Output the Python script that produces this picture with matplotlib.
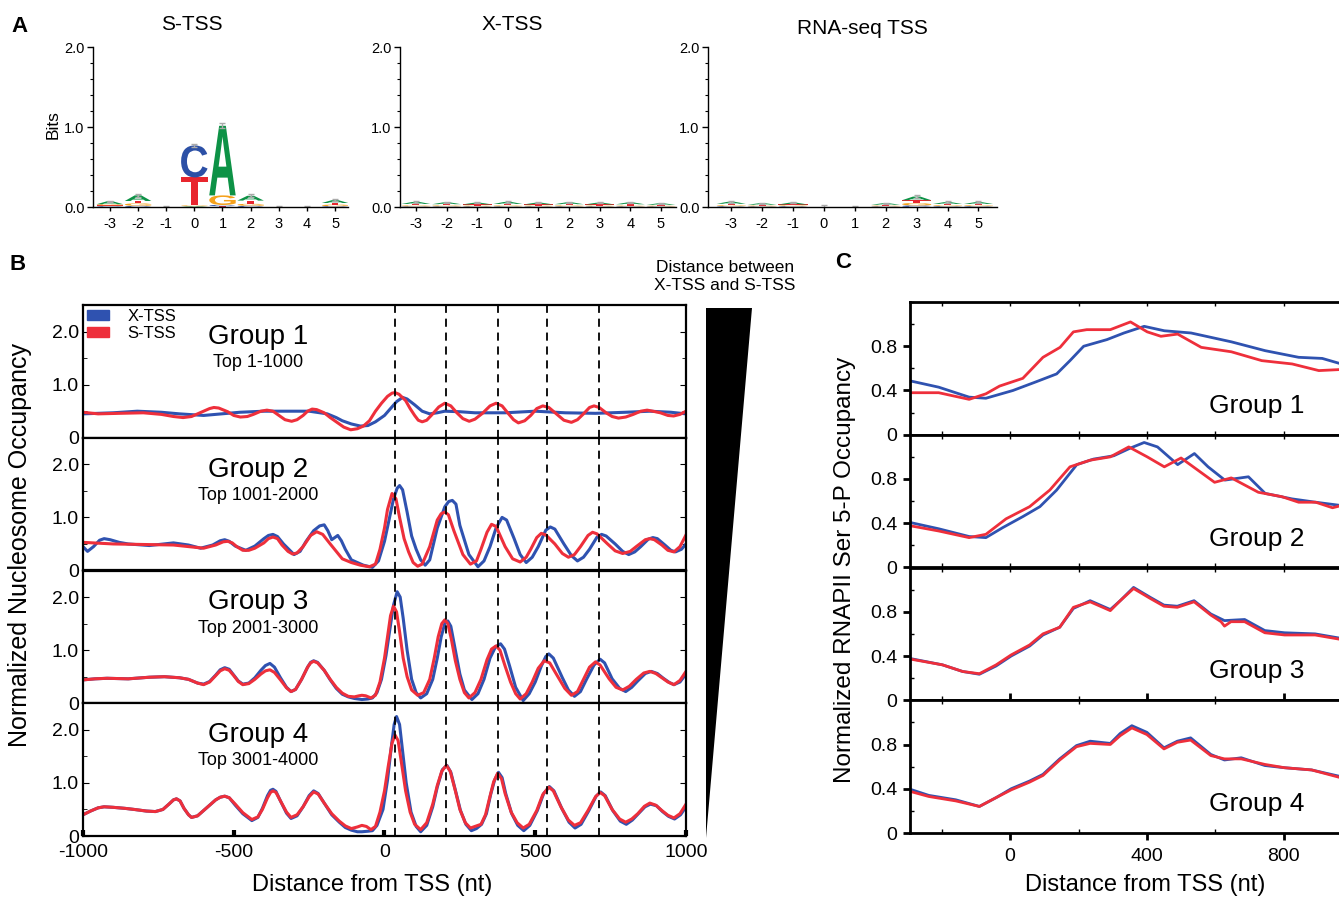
import numpy as np
import matplotlib
matplotlib.use("Agg")
import matplotlib.pyplot as plt
from matplotlib.textpath import TextPath
from matplotlib.patches import PathPatch, Patch, Polygon
from matplotlib.font_manager import FontProperties
from matplotlib.transforms import Affine2D
from matplotlib.ticker import MultipleLocator, FixedLocator

plt.rcParams['font.family'] = ['Liberation Sans', 'DejaVu Sans']
plt.rcParams['axes.unicode_minus'] = False
NARROW = ['Liberation Sans Narrow', 'Liberation Sans', 'DejaVu Sans']

BLUE = '#2f52b0'
RED = '#ee2f3b'

# ---------------- panel A: sequence logos (bits) ----------------
logo_pos = [-3, -2, -1, 0, 1, 2, 3, 4, 5]
logo_titles = ['S-TSS', 'X-TSS', 'RNA-seq TSS']

s_tss_A = [0.035, 0.07, 0.0, 0.01, 0.87, 0.06, 0.0, 0.0, 0.035]
s_tss_C = [0.01, 0.015, 0.0, 0.40, 0.015, 0.015, 0.0, 0.0, 0.01]
s_tss_G = [0.015, 0.03, 0.0, 0.01, 0.12, 0.025, 0.0, 0.0, 0.02]
s_tss_T = [0.01, 0.03, 0.0, 0.35, 0.01, 0.04, 0.0, 0.0, 0.02]
s_tss_err = [0.01, 0.02, 0.01, 0.02, 0.03, 0.02, 0.01, 0.015, 0.01]

x_tss_A = [0.025, 0.022, 0.02, 0.025, 0.02, 0.022, 0.02, 0.022, 0.018]
x_tss_C = [0.008, 0.008, 0.008, 0.008, 0.008, 0.008, 0.008, 0.008, 0.007]
x_tss_G = [0.012, 0.012, 0.01, 0.012, 0.01, 0.012, 0.01, 0.01, 0.01]
x_tss_T = [0.018, 0.015, 0.015, 0.018, 0.015, 0.015, 0.015, 0.016, 0.01]
x_tss_err = [0.01, 0.008, 0.008, 0.01, 0.008, 0.008, 0.008, 0.008, 0.008]

rna_tss_A = [0.025, 0.018, 0.022, 0.0, 0.0, 0.018, 0.045, 0.022, 0.022]
rna_tss_C = [0.01, 0.008, 0.01, 0.0, 0.0, 0.008, 0.02, 0.01, 0.01]
rna_tss_G = [0.012, 0.01, 0.01, 0.0, 0.0, 0.01, 0.03, 0.012, 0.012]
rna_tss_T = [0.018, 0.01, 0.012, 0.0, 0.0, 0.01, 0.035, 0.016, 0.016]
rna_tss_err = [0.01, 0.008, 0.008, 0.02, 0.015, 0.008, 0.015, 0.01, 0.01]

# ---------------- panel B: nucleosome occupancy, (position, value) ----------------
group_names = ['Group 1', 'Group 2', 'Group 3', 'Group 4']
group_ranks = ['Top 1-1000', 'Top 1001-2000', 'Top 2001-3000', 'Top 3001-4000']
dyad_lines = [35, 205, 375, 540, 710]

nuc_x_g1 = [(-1000, 0.45), (-900, 0.47), (-820, 0.50), (-740, 0.48), (-680, 0.45), (-600, 0.42),
            (-540, 0.45), (-480, 0.48), (-400, 0.50), (-300, 0.50), (-250, 0.50), (-190, 0.45),
            (-160, 0.38), (-140, 0.32), (-110, 0.26), (-80, 0.22), (-55, 0.23), (-30, 0.30), (0, 0.42),
            (20, 0.55), (40, 0.68), (60, 0.76), (75, 0.73), (100, 0.62), (125, 0.50), (150, 0.45),
            (175, 0.47), (200, 0.50), (250, 0.49), (300, 0.47), (400, 0.47), (500, 0.50), (600, 0.47),
            (700, 0.46), (800, 0.48), (880, 0.50), (950, 0.48), (1000, 0.45)]
nuc_s_g1 = [(-1000, 0.48), (-950, 0.45), (-880, 0.46), (-800, 0.47), (-740, 0.44), (-700, 0.40),
            (-668, 0.38), (-640, 0.40), (-600, 0.50), (-580, 0.55), (-566, 0.57), (-550, 0.56),
            (-520, 0.49), (-500, 0.42), (-478, 0.39), (-455, 0.40), (-435, 0.44), (-410, 0.50),
            (-390, 0.52), (-370, 0.50), (-350, 0.42), (-330, 0.34), (-308, 0.31), (-290, 0.34),
            (-270, 0.42), (-255, 0.50), (-240, 0.54), (-225, 0.53), (-200, 0.47), (-180, 0.38),
            (-160, 0.30), (-135, 0.20), (-112, 0.15), (-90, 0.17), (-70, 0.22), (-50, 0.32), (-30, 0.50),
            (-10, 0.65), (10, 0.78), (25, 0.84), (35, 0.85), (48, 0.82), (70, 0.70), (85, 0.55),
            (100, 0.42), (112, 0.33), (125, 0.30), (140, 0.33), (160, 0.45), (180, 0.58), (200, 0.65),
            (220, 0.60), (240, 0.47), (260, 0.36), (281, 0.31), (300, 0.35), (325, 0.46), (350, 0.60),
            (370, 0.65), (390, 0.60), (410, 0.46), (428, 0.34), (444, 0.28), (465, 0.32), (485, 0.42),
            (505, 0.55), (525, 0.60), (545, 0.57), (570, 0.45), (595, 0.33), (620, 0.29), (640, 0.34),
            (660, 0.45), (680, 0.57), (695, 0.60), (712, 0.57), (735, 0.47), (755, 0.40), (776, 0.37),
            (800, 0.39), (825, 0.44), (850, 0.50), (871, 0.52), (890, 0.50), (915, 0.47), (940, 0.42),
            (959, 0.41), (980, 0.44), (1000, 0.50)]

nuc_x_g2 = [(-1000, 0.45), (-985, 0.36), (-965, 0.45), (-945, 0.57), (-930, 0.60), (-910, 0.58),
            (-880, 0.53), (-850, 0.50), (-780, 0.47), (-700, 0.52), (-650, 0.48), (-610, 0.42),
            (-570, 0.48), (-545, 0.56), (-530, 0.58), (-515, 0.55), (-495, 0.46), (-460, 0.38),
            (-430, 0.46), (-400, 0.60), (-385, 0.66), (-370, 0.68), (-355, 0.64), (-335, 0.50),
            (-300, 0.30), (-280, 0.36), (-260, 0.55), (-235, 0.75), (-215, 0.84), (-200, 0.86),
            (-188, 0.75), (-175, 0.58), (-165, 0.62), (-155, 0.66), (-143, 0.56), (-130, 0.40),
            (-110, 0.20), (-70, 0.10), (-40, 0.06), (-20, 0.18), (0, 0.55), (15, 0.95), (30, 1.35),
            (42, 1.55), (50, 1.60), (60, 1.52), (75, 1.10), (90, 0.65), (105, 0.40), (120, 0.20),
            (135, 0.10), (150, 0.20), (175, 0.80), (200, 1.20), (213, 1.30), (225, 1.32), (237, 1.25),
            (250, 0.85), (280, 0.30), (310, 0.07), (330, 0.18), (350, 0.45), (370, 0.80), (390, 1.00),
            (405, 0.95), (430, 0.60), (450, 0.30), (470, 0.15), (490, 0.25), (510, 0.45), (535, 0.76),
            (550, 0.82), (565, 0.78), (595, 0.50), (620, 0.28), (640, 0.18), (660, 0.25), (680, 0.40),
            (705, 0.63), (720, 0.68), (735, 0.65), (765, 0.50), (790, 0.36), (810, 0.30), (830, 0.35),
            (850, 0.45), (875, 0.59), (890, 0.62), (905, 0.60), (930, 0.48), (950, 0.38), (965, 0.35),
            (985, 0.40), (1000, 0.50)]
nuc_s_g2 = [(-1000, 0.53), (-900, 0.50), (-800, 0.49), (-700, 0.48), (-650, 0.45), (-600, 0.42),
            (-560, 0.48), (-535, 0.54), (-520, 0.55), (-505, 0.52), (-490, 0.45), (-470, 0.38),
            (-450, 0.38), (-430, 0.42), (-400, 0.52), (-385, 0.60), (-370, 0.63), (-355, 0.60),
            (-340, 0.48), (-320, 0.36), (-305, 0.31), (-290, 0.33), (-270, 0.45), (-245, 0.66),
            (-225, 0.73), (-205, 0.68), (-180, 0.50), (-140, 0.22), (-110, 0.15), (-80, 0.10),
            (-50, 0.07), (-30, 0.12), (-15, 0.40), (0, 0.80), (10, 1.15), (25, 1.45), (38, 1.35),
            (50, 1.00), (65, 0.60), (80, 0.35), (95, 0.15), (110, 0.08), (125, 0.12), (150, 0.45),
            (175, 0.95), (188, 1.07), (200, 1.10), (212, 1.05), (230, 0.75), (260, 0.30), (285, 0.12),
            (305, 0.18), (320, 0.40), (340, 0.72), (355, 0.87), (370, 0.83), (400, 0.45), (425, 0.22),
            (450, 0.16), (470, 0.25), (485, 0.40), (505, 0.62), (520, 0.70), (535, 0.67), (565, 0.50),
            (590, 0.32), (610, 0.25), (630, 0.30), (650, 0.45), (675, 0.66), (690, 0.72), (705, 0.69),
            (740, 0.50), (765, 0.37), (790, 0.32), (815, 0.36), (835, 0.45), (865, 0.58), (880, 0.60),
            (895, 0.58), (920, 0.48), (940, 0.38), (960, 0.35), (980, 0.45), (1000, 0.67)]

nuc_x_g3 = [(-1000, 0.44), (-960, 0.46), (-920, 0.47), (-850, 0.46), (-780, 0.49), (-730, 0.50),
            (-680, 0.48), (-650, 0.45), (-620, 0.38), (-600, 0.36), (-580, 0.41), (-560, 0.53),
            (-545, 0.63), (-530, 0.67), (-515, 0.64), (-500, 0.53), (-485, 0.42), (-470, 0.36),
            (-450, 0.38), (-430, 0.48), (-410, 0.62), (-395, 0.71), (-380, 0.75), (-365, 0.68),
            (-345, 0.48), (-325, 0.30), (-310, 0.22), (-295, 0.26), (-275, 0.45), (-255, 0.68),
            (-245, 0.77), (-235, 0.80), (-222, 0.77), (-200, 0.62), (-180, 0.44), (-160, 0.28),
            (-140, 0.17), (-120, 0.12), (-100, 0.09), (-75, 0.07), (-55, 0.08), (-40, 0.10), (-25, 0.20),
            (-10, 0.45), (5, 0.90), (18, 1.40), (30, 1.85), (42, 2.10), (52, 2.00), (62, 1.60),
            (75, 1.00), (90, 0.45), (105, 0.20), (120, 0.10), (140, 0.18), (160, 0.45), (175, 0.85),
            (188, 1.25), (200, 1.50), (210, 1.55), (220, 1.45), (235, 1.00), (250, 0.55), (265, 0.25),
            (290, 0.07), (310, 0.18), (330, 0.45), (350, 0.85), (368, 1.06), (385, 1.12), (398, 1.02),
            (415, 0.70), (435, 0.30), (460, 0.05), (480, 0.18), (500, 0.40), (520, 0.70), (535, 0.88),
            (545, 0.93), (560, 0.85), (590, 0.48), (610, 0.25), (630, 0.13), (650, 0.22), (670, 0.45),
            (695, 0.72), (715, 0.83), (730, 0.76), (755, 0.46), (780, 0.28), (800, 0.22), (820, 0.30),
            (840, 0.42), (865, 0.56), (885, 0.60), (905, 0.56), (925, 0.47), (945, 0.39), (960, 0.35),
            (980, 0.40), (1000, 0.55)]
nuc_s_g3 = [(-1000, 0.44), (-960, 0.46), (-920, 0.47), (-850, 0.46), (-780, 0.49), (-730, 0.50),
            (-680, 0.48), (-650, 0.45), (-620, 0.38), (-600, 0.35), (-580, 0.40), (-560, 0.52),
            (-545, 0.61), (-530, 0.65), (-515, 0.62), (-500, 0.52), (-485, 0.41), (-470, 0.35),
            (-450, 0.37), (-430, 0.45), (-410, 0.55), (-395, 0.61), (-380, 0.63), (-365, 0.58),
            (-345, 0.44), (-325, 0.29), (-310, 0.22), (-295, 0.26), (-275, 0.45), (-255, 0.68),
            (-245, 0.76), (-235, 0.79), (-222, 0.76), (-200, 0.62), (-180, 0.45), (-160, 0.30),
            (-140, 0.19), (-120, 0.13), (-100, 0.12), (-85, 0.14), (-75, 0.15), (-62, 0.14), (-45, 0.10),
            (-30, 0.15), (-15, 0.40), (0, 0.85), (10, 1.25), (20, 1.65), (30, 1.83), (40, 1.72),
            (50, 1.35), (62, 0.85), (75, 0.50), (90, 0.25), (110, 0.15), (130, 0.20), (150, 0.45),
            (165, 0.85), (178, 1.25), (190, 1.50), (200, 1.57), (210, 1.50), (222, 1.20), (235, 0.80),
            (250, 0.45), (265, 0.20), (280, 0.10), (300, 0.20), (320, 0.45), (340, 0.82), (355, 1.02),
            (370, 1.08), (383, 1.00), (400, 0.70), (418, 0.40), (435, 0.18), (450, 0.08), (470, 0.18),
            (490, 0.40), (510, 0.66), (530, 0.80), (548, 0.76), (575, 0.50), (598, 0.28), (620, 0.15),
            (640, 0.22), (660, 0.45), (680, 0.68), (700, 0.78), (715, 0.72), (745, 0.46), (768, 0.30),
            (790, 0.25), (812, 0.32), (835, 0.45), (860, 0.57), (880, 0.60), (900, 0.56), (920, 0.48),
            (940, 0.40), (960, 0.35), (980, 0.43), (1000, 0.60)]

nuc_x_g4 = [(-1000, 0.40), (-975, 0.47), (-950, 0.53), (-930, 0.55), (-900, 0.54), (-860, 0.52),
            (-830, 0.50), (-790, 0.47), (-760, 0.46), (-735, 0.50), (-715, 0.60), (-700, 0.68),
            (-690, 0.70), (-678, 0.66), (-665, 0.52), (-650, 0.40), (-640, 0.35), (-620, 0.38),
            (-590, 0.53), (-560, 0.68), (-545, 0.73), (-530, 0.75), (-515, 0.72), (-495, 0.58),
            (-470, 0.42), (-440, 0.29), (-420, 0.35), (-405, 0.52), (-388, 0.76), (-378, 0.86),
            (-370, 0.88), (-360, 0.84), (-345, 0.66), (-325, 0.43), (-310, 0.33), (-290, 0.38),
            (-270, 0.55), (-250, 0.76), (-235, 0.85), (-220, 0.80), (-200, 0.62), (-175, 0.40),
            (-150, 0.26), (-130, 0.16), (-110, 0.11), (-90, 0.08), (-75, 0.08), (-55, 0.09), (-40, 0.10),
            (-25, 0.20), (-5, 0.50), (10, 1.05), (22, 1.65), (32, 2.10), (40, 2.25), (50, 2.10),
            (60, 1.60), (72, 1.00), (88, 0.45), (105, 0.18), (120, 0.08), (140, 0.20), (160, 0.55),
            (175, 0.92), (192, 1.25), (207, 1.33), (220, 1.20), (237, 0.82), (252, 0.48), (270, 0.22),
            (288, 0.10), (305, 0.14), (322, 0.22), (338, 0.42), (352, 0.78), (365, 1.05), (378, 1.20),
            (390, 1.10), (402, 0.80), (422, 0.42), (442, 0.20), (462, 0.10), (482, 0.20), (507, 0.48),
            (528, 0.80), (547, 0.93), (562, 0.85), (588, 0.52), (612, 0.26), (632, 0.15), (652, 0.22),
            (677, 0.47), (702, 0.75), (717, 0.83), (732, 0.76), (757, 0.48), (782, 0.28), (802, 0.22),
            (822, 0.30), (842, 0.42), (864, 0.55), (882, 0.60), (902, 0.57), (922, 0.46), (942, 0.37),
            (962, 0.32), (982, 0.40), (1000, 0.55)]
nuc_s_g4 = [(-1000, 0.40), (-975, 0.47), (-950, 0.53), (-930, 0.55), (-900, 0.54), (-860, 0.52),
            (-830, 0.50), (-790, 0.47), (-760, 0.46), (-735, 0.50), (-715, 0.60), (-700, 0.68),
            (-690, 0.70), (-678, 0.66), (-665, 0.52), (-650, 0.40), (-640, 0.35), (-620, 0.38),
            (-590, 0.53), (-560, 0.68), (-545, 0.73), (-530, 0.75), (-515, 0.72), (-495, 0.60),
            (-470, 0.44), (-440, 0.31), (-420, 0.36), (-405, 0.50), (-388, 0.72), (-378, 0.82),
            (-370, 0.85), (-360, 0.82), (-345, 0.66), (-325, 0.45), (-310, 0.35), (-290, 0.40),
            (-270, 0.55), (-250, 0.74), (-235, 0.83), (-220, 0.79), (-200, 0.62), (-175, 0.42),
            (-150, 0.28), (-130, 0.19), (-110, 0.14), (-90, 0.17), (-75, 0.20), (-60, 0.18), (-45, 0.12),
            (-30, 0.18), (-15, 0.45), (0, 0.85), (12, 1.30), (25, 1.75), (35, 1.90), (45, 1.80),
            (57, 1.35), (70, 0.85), (85, 0.45), (100, 0.22), (120, 0.12), (140, 0.25), (160, 0.60),
            (175, 0.95), (190, 1.22), (205, 1.33), (218, 1.22), (235, 0.85), (250, 0.50), (268, 0.25),
            (285, 0.15), (300, 0.18), (320, 0.22), (335, 0.40), (350, 0.75), (362, 1.02), (375, 1.18),
            (388, 1.08), (400, 0.80), (420, 0.45), (440, 0.25), (460, 0.15), (480, 0.22), (505, 0.48),
            (525, 0.78), (545, 0.92), (560, 0.85), (585, 0.55), (610, 0.30), (630, 0.20), (650, 0.25),
            (675, 0.48), (700, 0.74), (715, 0.82), (730, 0.76), (755, 0.50), (780, 0.32), (800, 0.26),
            (820, 0.32), (840, 0.42), (862, 0.56), (880, 0.62), (900, 0.58), (920, 0.48), (940, 0.39),
            (960, 0.34), (980, 0.42), (1000, 0.60)]

nuc_x_tss = [nuc_x_g1, nuc_x_g2, nuc_x_g3, nuc_x_g4]
nuc_s_tss = [nuc_s_g1, nuc_s_g2, nuc_s_g3, nuc_s_g4]

# ---------------- panel C: RNAPII Ser5-P occupancy ----------------
pol_x_pos = [
    [-297, -209, -120, -71, 8, 77, 136, 175, 215, 283, 333, 392, 451, 529, 647, 746, 844, 913, 969],
    [-297, -209, -120, -71, -22, 37, 87, 136, 195, 244, 303, 352, 392, 431, 490, 539, 579, 628, 697, 746,
     825, 894, 969],
    [-297, -198, -139, -90, -41, 3, 57, 96, 145, 185, 234, 293, 322, 361, 410, 450, 489, 538, 587, 627,
     686, 745, 803, 892, 967],
    [-297, -238, -159, -90, -41, 3, 57, 96, 145, 194, 234, 293, 322, 356, 400, 450, 489, 528, 587, 627,
     676, 745, 803, 882, 967],
]
pol_x_val = [
    [0.49, 0.43, 0.34, 0.33, 0.40, 0.48, 0.55, 0.67, 0.80, 0.86, 0.92, 0.98, 0.94, 0.92, 0.84, 0.76, 0.70,
     0.69, 0.64],
    [0.41, 0.35, 0.28, 0.27, 0.36, 0.46, 0.55, 0.70, 0.93, 0.98, 1.01, 1.08, 1.13, 1.09, 0.93, 1.03, 0.91,
     0.79, 0.82, 0.67, 0.62, 0.59, 0.56],
    [0.38, 0.32, 0.26, 0.235, 0.31, 0.40, 0.49, 0.59, 0.66, 0.83, 0.90, 0.82, 0.90, 1.02, 0.93, 0.86, 0.85,
     0.90, 0.78, 0.72, 0.73, 0.63, 0.61, 0.60, 0.56],
    [0.40, 0.34, 0.30, 0.24, 0.32, 0.40, 0.47, 0.53, 0.67, 0.79, 0.83, 0.81, 0.90, 0.97, 0.91, 0.77, 0.83,
     0.86, 0.71, 0.66, 0.68, 0.61, 0.59, 0.57, 0.51],
]
pol_s_pos = [
    [-297, -209, -120, -71, -31, 37, 96, 146, 185, 224, 293, 352, 401, 441, 490, 559, 647, 736, 825, 903,
     969],
    [-297, -209, -120, -71, -12, 57, 116, 175, 234, 293, 347, 401, 451, 500, 549, 598, 647, 726, 795, 844,
     894, 943, 969],
    [-297, -198, -139, -90, -41, 3, 57, 96, 145, 185, 234, 293, 322, 361, 410, 450, 489, 538, 587, 617,
     627, 646, 686, 745, 803, 892, 967],
    [-297, -238, -159, -90, -41, 3, 57, 96, 145, 194, 234, 293, 322, 356, 400, 450, 489, 528, 587, 627,
     676, 745, 803, 882, 967],
]
pol_s_val = [
    [0.38, 0.38, 0.32, 0.37, 0.44, 0.51, 0.70, 0.79, 0.93, 0.95, 0.95, 1.02, 0.93, 0.89, 0.91, 0.79, 0.75,
     0.67, 0.64, 0.58, 0.59],
    [0.38, 0.33, 0.27, 0.30, 0.44, 0.55, 0.70, 0.91, 0.97, 1.00, 1.09, 1.00, 0.91, 0.99, 0.88, 0.77, 0.81,
     0.68, 0.64, 0.59, 0.59, 0.54, 0.56],
    [0.375, 0.32, 0.26, 0.24, 0.32, 0.41, 0.50, 0.60, 0.66, 0.84, 0.89, 0.81, 0.90, 1.01, 0.92, 0.85, 0.84,
     0.89, 0.77, 0.71, 0.67, 0.71, 0.71, 0.61, 0.59, 0.59, 0.55],
    [0.38, 0.33, 0.29, 0.24, 0.32, 0.39, 0.46, 0.52, 0.66, 0.78, 0.81, 0.80, 0.88, 0.95, 0.89, 0.76, 0.82,
     0.84, 0.70, 0.67, 0.67, 0.62, 0.59, 0.57, 0.50],
]

W, H = 1339, 897
fig = plt.figure(figsize=(W / 100, H / 100), dpi=100)


def add_ax(l, t, r, b):
    # axes box given in pixel edges of the figure
    return fig.add_axes([l / W, 1 - b / H, (r - l) / W, (b - t) / H])


LETTER_FP = FontProperties(family='Liberation Sans', weight='bold')
letter_colors = {'A': '#0d9246', 'C': '#2c50a6', 'G': '#f5a11b', 'T': '#e8262e'}


def draw_logo(ax, heights, err):
    totals = []
    for i, pos in enumerate(logo_pos):
        stack = sorted([(heights[l][i], l) for l in 'ACGT'])
        y0 = 0.0
        for h, l in stack:
            if h <= 0:
                continue
            tp = TextPath((0, 0), l, size=1, prop=LETTER_FP)
            bb = tp.get_extents()
            tr = (Affine2D().translate(-bb.x0, -bb.y0)
                  .scale(0.94 / bb.width, h / bb.height)
                  .translate(pos - 0.47, y0))
            ax.add_patch(PathPatch(tr.transform_path(tp), fc=letter_colors[l], ec='none'))
            y0 += h
        totals.append(y0)
    ax.errorbar(logo_pos, totals, yerr=err, fmt='none', ecolor='#aaaaaa',
                elinewidth=1, capsize=2.5, capthick=1)


logo_sets = [
    ({'A': s_tss_A, 'C': s_tss_C, 'G': s_tss_G, 'T': s_tss_T}, s_tss_err),
    ({'A': x_tss_A, 'C': x_tss_C, 'G': x_tss_G, 'T': x_tss_T}, x_tss_err),
    ({'A': rna_tss_A, 'C': rna_tss_C, 'G': rna_tss_G, 'T': rna_tss_T}, rna_tss_err),
]
logo_boxes = [(93, 348, -3.60, 5.46), (400, 676, -3.52, 5.49), (708, 997, -3.75, 5.60)]
title_xy = [(192, 25), (512, 25), (862, 28)]

for (heights, err), (l, r, x0, x1), title, (tx, ty) in zip(logo_sets, logo_boxes, logo_titles, title_xy):
    ax = add_ax(l, 47, r, 207)
    draw_logo(ax, heights, err)
    ax.set_xlim(x0, x1)
    ax.set_ylim(0, 2.0)
    ax.spines['top'].set_visible(False)
    ax.spines['right'].set_visible(False)
    for s in ('left', 'bottom'):
        ax.spines[s].set_linewidth(1.0)
    ax.set_xticks(logo_pos)
    ax.set_xticklabels([str(p) for p in logo_pos])
    ax.set_yticks([0, 1, 2])
    ax.set_yticklabels(['0.0', '1.0', '2.0'])
    ax.yaxis.set_minor_locator(MultipleLocator(0.2))
    ax.tick_params(which='major', length=4, width=1, labelsize=10.5, pad=2)
    ax.tick_params(which='minor', length=2.5, width=0.8)
    ax.tick_params(axis='x', length=3, pad=4)
    fig.text(tx / W, 1 - ty / H, title, ha='center', va='center', fontsize=15)

fig.text(53 / W, 1 - 125 / H, 'Bits', rotation=90, ha='center', va='center', fontsize=12.5)

# ---------------- panel B ----------------
b_edges = [305, 437.75, 570.5, 703.25, 836]
for k in range(4):
    ax = add_ax(83, b_edges[k], 686, b_edges[k + 1])
    xp, xv = zip(*nuc_x_tss[k])
    sp, sv = zip(*nuc_s_tss[k])
    ax.plot(xp, xv, color=BLUE, lw=2.2, solid_joinstyle='round')
    ax.plot(sp, sv, color=RED, lw=2.2, solid_joinstyle='round')
    for d in dyad_lines:
        ax.axvline(d, color='black', lw=1.3, ls=(0, (4.5, 3.2)))
    ax.set_xlim(-1000, 1000)
    ax.set_ylim(0, 2.5)
    for s in ax.spines.values():
        s.set_linewidth(1.6)
    ax.set_yticks([0, 1, 2])
    ax.set_yticklabels(['0', '1.0', '2.0'], family=NARROW)
    ax.yaxis.set_minor_locator(MultipleLocator(0.5))
    ax.tick_params(axis='y', which='both', direction='in', left=True, right=True,
                   labelsize=14, pad=3)
    ax.tick_params(axis='y', which='major', length=4)
    ax.tick_params(axis='y', which='minor', length=3)
    ax.set_xticks([-1000, -500, 0, 500, 1000])
    ax.tick_params(axis='x', direction='in', top=False, bottom=True, length=4, width=1.0)
    if k < 3:
        ax.tick_params(axis='x', bottom=False, labelbottom=False)
    else:
        ax.tick_params(axis='x', which='major', width=3, length=4, labelsize=14, pad=6)
        for lab in ax.get_xticklabels():
            lab.set_family(NARROW)
    ax.text(0.29, 0.76, group_names[k], transform=ax.transAxes, ha='center', va='center',
            fontsize=20, family=NARROW)
    ax.text(0.29, 0.565, group_ranks[k], transform=ax.transAxes, ha='center', va='center',
            fontsize=13, family=NARROW)
    if k == 0:
        ax.legend(handles=[Patch(color=BLUE, label='X-TSS'), Patch(color=RED, label='S-TSS')],
                  loc='upper left', bbox_to_anchor=(0.0, 1.0), frameon=False, fontsize=12,
                  handlelength=1.3, handleheight=0.55, handletextpad=1.1, labelspacing=0.12,
                  borderaxespad=0.1, borderpad=0.15)

fig.text(20 / W, 1 - 545 / H, 'Normalized Nucleosome Occupancy', rotation=90,
         ha='center', va='center', fontsize=18)
fig.text(372 / W, 1 - 885 / H, 'Distance from TSS (nt)', ha='center', va='center', fontsize=17)

# wedge showing growing X-TSS / S-TSS distance
tri = add_ax(706, 308, 752, 838)
tri.add_patch(Polygon([(0, 1), (1, 1), (0, 0)], closed=True, fc='black', ec='none',
                      transform=tri.transAxes))
tri.axis('off')
fig.text(725 / W, 1 - 276 / H, 'Distance between\nX-TSS and S-TSS', ha='center', va='center',
         fontsize=12.5, linespacing=1.25)

# ---------------- panel C ----------------
c_edges = [302, 434.75, 567.5, 700.25, 833]
for k in range(4):
    ax = add_ax(910, c_edges[k], W, c_edges[k + 1])
    ax.plot(pol_x_pos[k], pol_x_val[k], color=BLUE, lw=2.0, solid_joinstyle='round')
    ax.plot(pol_s_pos[k], pol_s_val[k], color=RED, lw=2.0, solid_joinstyle='round')
    ax.set_xlim(-293, 962)
    ax.set_ylim(0, 1.2)
    ax.spines['right'].set_visible(False)
    for s in ('left', 'top', 'bottom'):
        ax.spines[s].set_linewidth(2.0)
    ax.set_yticks([0, 0.4, 0.8])
    ax.set_yticklabels(['0', '0.4', '0.8'])
    ax.yaxis.set_minor_locator(MultipleLocator(0.2))
    ax.tick_params(axis='y', which='major', direction='out', length=5, width=2, labelsize=14, pad=4)
    ax.tick_params(axis='y', which='minor', direction='in', length=3, width=1)
    ax.xaxis.set_major_locator(FixedLocator([0, 400, 800]))
    ax.xaxis.set_minor_locator(FixedLocator([-200, 200, 600]))
    ax.tick_params(axis='x', which='both', direction='in', top=True, bottom=True, length=3, width=1)
    if k < 3:
        ax.tick_params(axis='x', labelbottom=False)
    else:
        ax.tick_params(axis='x', which='major', direction='out', length=5, width=2,
                       labelsize=14, pad=6)
    ax.text(0.809, 0.217, group_names[k], transform=ax.transAxes, ha='center', va='center',
            fontsize=19)

fig.text(845 / W, 1 - 570 / H, 'Normalized RNAPII Ser 5-P Occupancy', rotation=90,
         ha='center', va='center', fontsize=17.5)
fig.text(1145 / W, 1 - 885 / H, 'Distance from TSS (nt)', ha='center', va='center', fontsize=17)

# panel letters
for letter, (px, py) in zip('ABC', [(20, 27), (18, 265), (843, 263)]):
    fig.text(px / W, 1 - py / H, letter, ha='center', va='center', fontsize=16, weight='bold')

fig.savefig('out.png', dpi=100)
